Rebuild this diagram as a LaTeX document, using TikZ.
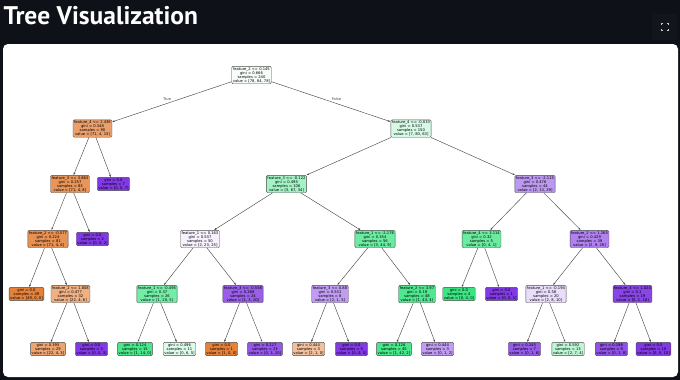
\documentclass[tikz,border=0pt]{standalone}
\usepackage{fontspec}
\usepackage{xcolor}
\usepackage{tikz}
\usetikzlibrary{arrows.meta}
\newfontfamily\treefont{DejaVu Sans}
\newfontfamily\titlefont{PT Sans}
\definecolor{pagebg}{HTML}{0E1117}
\definecolor{iconbg}{HTML}{12151C}
\definecolor{icongray}{HTML}{C9CBD1}
\definecolor{clsA}{HTML}{E58139}
\definecolor{clsB}{HTML}{39E581}
\definecolor{clsC}{HTML}{8139E5}
\definecolor{edgegray}{HTML}{4A4A4A}

\begin{document}
\begin{tikzpicture}[x=1pt,y=-1pt,
    split/.style={draw=edgegray,line width=0.4pt,rounded corners=1.2pt,
                  inner xsep=1.1pt,inner ysep=0.9pt,align=center,
                  font=\treefont\fontsize{3.7}{4.1}\selectfont},
    leaf/.style={split},
    arrow/.style={-{Latex[length=2.4pt,width=1.9pt]},line width=0.45pt,edgegray},
    branch/.style={font=\treefont\fontsize{3.7}{4.1}\selectfont,inner sep=0.6pt}]
  \useasboundingbox (0,0) rectangle (680,380);
  \fill[pagebg] (0,0) rectangle (680,380);
  \fill[white,rounded corners=5pt] (3,44) rectangle (678,377);

  % page header
  \node[font=\titlefont\bfseries\fontsize{25.5}{30}\selectfont,text=white,
        anchor=base west,inner sep=0] (title) at (3.5,24) {Tree Visualization};
  \fill[iconbg,rounded corners=3pt] (652,14) rectangle (677,40);
  \draw[icongray,line width=0.7pt]
    (661.5,25) -- (661.5,23.5) -- (663,23.5)  (667,23.5) -- (668.5,23.5) -- (668.5,25)
    (668.5,29) -- (668.5,30.5) -- (667,30.5)  (663,30.5) -- (661.5,30.5) -- (661.5,29);

  % depth 0 and 1
  \node[split,fill=clsB!4] (root) at (251.5,75) {feature\_2 <= 0.145\\gini = 0.666\\samples = 240\\value = [78, 84, 78]};
  \node[split,fill=clsA!75] (t) at (92.5,128.5) {feature\_4 <= 2.436\\gini = 0.348\\samples = 90\\value = [71, 4, 15]};
  \node[split,fill=clsB!20] (f) at (411,128.5) {feature\_4 <= -0.033\\gini = 0.537\\samples = 150\\value = [7, 80, 63]};

  % depth 2
  \node[split,fill=clsA!84] (tt) at (70,184) {feature\_3 <= 3.863\\gini = 0.257\\samples = 83\\value = [71, 4, 8]};
  \node[leaf,fill=clsC] (tf) at (113.5,184) {gini = 0.0\\samples = 7\\value = [0, 0, 7]};
  \node[split,fill=clsB!46] (ft) at (286.5,184) {feature\_3 <= -0.122\\gini = 0.495\\samples = 106\\value = [5, 67, 34]};
  \node[split,fill=clsC!52] (ff) at (535,184) {feature\_3 <= -2.115\\gini = 0.476\\samples = 44\\value = [2, 13, 29]};

  % depth 3
  \node[split,fill=clsA!87] (ttt) at (48,239) {feature\_2 <= -0.577\\gini = 0.224\\samples = 81\\value = [71, 4, 6]};
  \node[leaf,fill=clsC] (ttf) at (92.5,239) {gini = 0.0\\samples = 2\\value = [0, 0, 2]};
  \node[split,fill=clsC!7] (ftt) at (200,239) {feature\_1 <= 0.163\\gini = 0.537\\samples = 50\\value = [2, 23, 25]};
  \node[split,fill=clsB!74] (ftf) at (375,239) {feature\_1 <= -2.176\\gini = 0.354\\samples = 56\\value = [3, 44, 9]};
  \node[split,fill=clsB!75] (fft) at (481.5,239) {feature\_4 <= 3.114\\gini = 0.32\\samples = 5\\value = [0, 4, 1]};
  \node[split,fill=clsC!63] (fff) at (589.5,239) {feature\_2 <= 1.265\\gini = 0.429\\samples = 39\\value = [2, 9, 28]};

  % depth 4
  \node[leaf,fill=clsA] (tttt) at (26.5,294) {gini = 0.0\\samples = 49\\value = [49, 0, 0]};
  \node[split,fill=clsA!62] (tttf) at (70.5,294) {feature\_2 <= 1.808\\gini = 0.477\\samples = 32\\value = [22, 4, 6]};
  \node[split,fill=clsB!71] (fttt) at (157,294) {feature\_1 <= -0.495\\gini = 0.37\\samples = 26\\value = [1, 20, 5]};
  \node[split,fill=clsC!81] (fttf) at (243,294) {feature\_3 <= -0.558\\gini = 0.288\\samples = 24\\value = [1, 3, 20]};
  \node[split,fill=clsC!50] (ftft) at (330,294) {feature\_3 <= 0.88\\gini = 0.531\\samples = 8\\value = [2, 1, 5]};
  \node[split,fill=clsB!89] (ftff) at (417,294) {feature\_2 <= 3.97\\gini = 0.19\\samples = 48\\value = [1, 43, 4]};
  \node[leaf,fill=clsB] (fftt) at (459,294) {gini = 0.0\\samples = 4\\value = [0, 4, 0]};
  \node[leaf,fill=clsC] (fftf) at (501.5,294) {gini = 0.0\\samples = 1\\value = [0, 0, 1]};
  \node[split,fill=clsC!17] (ffft) at (546,294) {feature\_1 <= -0.194\\gini = 0.58\\samples = 20\\value = [2, 8, 10]};
  \node[split,fill=clsC!94] (ffff) at (632.5,294) {feature\_4 <= 1.024\\gini = 0.1\\samples = 19\\value = [0, 1, 18]};

  % depth 5
  \node[leaf,fill=clsA!72] (tttft) at (48,349) {gini = 0.395\\samples = 29\\value = [22, 4, 3]};
  \node[leaf,fill=clsC] (tttff) at (91.5,349) {gini = 0.0\\samples = 3\\value = [0, 0, 3]};
  \node[leaf,fill=clsB!93] (ftttt) at (135,349) {gini = 0.124\\samples = 15\\value = [1, 14, 0]};
  \node[leaf,fill=clsB!17] (ftttf) at (179.5,349) {gini = 0.496\\samples = 11\\value = [0, 6, 5]};
  \node[leaf,fill=clsA] (fttft) at (221.5,349) {gini = 0.0\\samples = 1\\value = [1, 0, 0]};
  \node[leaf,fill=clsC!85] (fttff) at (265,349) {gini = 0.227\\samples = 23\\value = [0, 3, 20]};
  \node[leaf,fill=clsA!50] (ftftt) at (308.5,349) {gini = 0.444\\samples = 3\\value = [2, 1, 0]};
  \node[leaf,fill=clsC] (ftftf) at (351.5,349) {gini = 0.0\\samples = 5\\value = [0, 0, 5]};
  \node[leaf,fill=clsB!93] (ftfft) at (394,349) {gini = 0.126\\samples = 45\\value = [1, 42, 2]};
  \node[leaf,fill=clsC!50] (ftfff) at (437.5,349) {gini = 0.444\\samples = 3\\value = [0, 1, 2]};
  \node[leaf,fill=clsC!83] (ffftt) at (524.5,349) {gini = 0.245\\samples = 7\\value = [0, 1, 6]};
  \node[leaf,fill=clsB!33] (ffftf) at (568,349) {gini = 0.592\\samples = 13\\value = [2, 7, 4]};
  \node[leaf,fill=clsC!88] (fffft) at (611.5,349) {gini = 0.198\\samples = 9\\value = [0, 1, 8]};
  \node[leaf,fill=clsC] (fffff) at (653.5,349) {gini = 0.0\\samples = 10\\value = [0, 0, 10]};

  \draw[arrow] (root) -- (t) node[branch,midway,above left] {True};
  \draw[arrow] (root) -- (f) node[branch,midway,above right] {False};
  \draw[arrow] (t) -- (tt);
  \draw[arrow] (t) -- (tf);
  \draw[arrow] (f) -- (ft);
  \draw[arrow] (f) -- (ff);
  \draw[arrow] (tt) -- (ttt);
  \draw[arrow] (tt) -- (ttf);
  \draw[arrow] (ft) -- (ftt);
  \draw[arrow] (ft) -- (ftf);
  \draw[arrow] (ff) -- (fft);
  \draw[arrow] (ff) -- (fff);
  \draw[arrow] (ttt) -- (tttt);
  \draw[arrow] (ttt) -- (tttf);
  \draw[arrow] (ftt) -- (fttt);
  \draw[arrow] (ftt) -- (fttf);
  \draw[arrow] (ftf) -- (ftft);
  \draw[arrow] (ftf) -- (ftff);
  \draw[arrow] (fft) -- (fftt);
  \draw[arrow] (fft) -- (fftf);
  \draw[arrow] (fff) -- (ffft);
  \draw[arrow] (fff) -- (ffff);
  \draw[arrow] (tttf) -- (tttft);
  \draw[arrow] (tttf) -- (tttff);
  \draw[arrow] (fttt) -- (ftttt);
  \draw[arrow] (fttt) -- (ftttf);
  \draw[arrow] (fttf) -- (fttft);
  \draw[arrow] (fttf) -- (fttff);
  \draw[arrow] (ftft) -- (ftftt);
  \draw[arrow] (ftft) -- (ftftf);
  \draw[arrow] (ftff) -- (ftfft);
  \draw[arrow] (ftff) -- (ftfff);
  \draw[arrow] (ffft) -- (ffftt);
  \draw[arrow] (ffft) -- (ffftf);
  \draw[arrow] (ffff) -- (fffft);
  \draw[arrow] (ffff) -- (fffff);
\end{tikzpicture}
\end{document}
